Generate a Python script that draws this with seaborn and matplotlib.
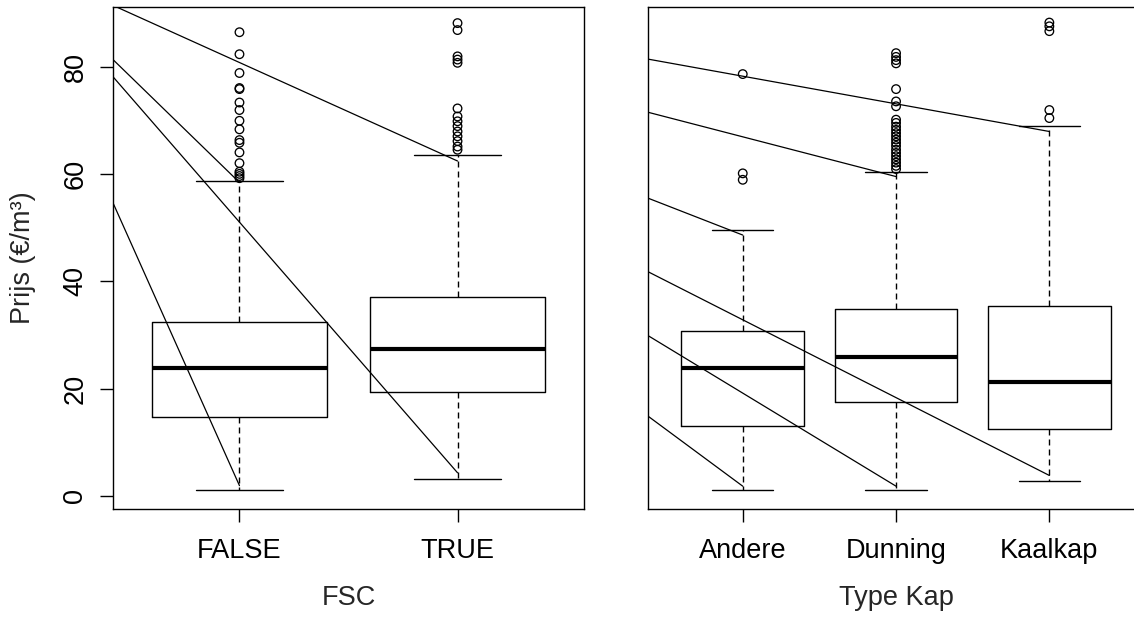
import matplotlib
matplotlib.use("Agg")
import matplotlib.pyplot as plt
import seaborn as sns
import numpy as np
import pandas as pd

# ---------------- data ----------------
fsc_categories = ["FALSE", "TRUE"]
fsc_whislo = [1.0, 3.2]
fsc_q1 = [14.7, 19.3]
fsc_median = [23.9, 27.4]
fsc_q3 = [32.4, 37.1]
fsc_whishi = [58.6, 63.5]
fsc_out_false = [86.4, 82.3, 78.8, 76.0, 75.8, 73.3, 71.9, 69.9, 68.3, 66.3,
                 65.8, 64.0, 62.0, 60.4, 60.0, 59.6, 59.2]
fsc_out_true = [88.1, 86.8, 81.9, 81.3, 80.7, 72.2, 70.7, 69.8, 68.9, 67.9,
                67.0, 66.1, 65.1, 64.5]

kap_categories = ["Andere", "Dunning", "Kaalkap"]
kap_whislo = [1.0, 1.0, 2.7]
kap_q1 = [13.0, 17.5, 12.5]
kap_median = [23.9, 25.8, 21.2]
kap_q3 = [30.8, 34.8, 35.4]
kap_whishi = [49.6, 60.4, 69.0]
kap_out_andere = [78.6, 60.1, 58.9]
kap_out_dunning = [82.5, 81.8, 81.2, 80.6, 75.8, 73.5, 72.6, 70.1, 69.5, 68.8,
                   68.2, 67.6, 67.0, 66.4, 65.8, 65.2, 64.5, 63.9, 63.3, 62.7,
                   62.1, 61.5, 60.9]
kap_out_kaalkap = [88.2, 87.5, 86.6, 71.9, 70.4]

# straight lines: start value at left edge of panel -> end (category, value)
fsc_line_start = [91.4, 81.3, 78.1, 54.6]
fsc_line_end_cat = ["TRUE", "FALSE", "TRUE", "FALSE"]
fsc_line_end = [62.4, 58.4, 4.3, 1.9]

kap_line_start = [81.4, 71.5, 55.5, 41.8, 29.9, 14.9]
kap_line_end_cat = ["Kaalkap", "Dunning", "Andere", "Kaalkap", "Dunning", "Andere"]
kap_line_end = [67.9, 59.5, 48.6, 3.8, 1.8, 1.8]

y_ticks = [0, 20, 40, 60, 80]
y_label = "Prijs (€/m³)"
x_label_left = "FSC"
x_label_right = "Type Kap"

# ---------------- style ----------------
sns.set_theme(style="white")
plt.rcParams["font.family"] = ["Liberation Sans", "DejaVu Sans"]
FS = 19.5

fig = plt.figure(figsize=(11.34, 6.19), dpi=100)
ax1 = fig.add_axes([113 / 1134, 110 / 619, 471 / 1134, 502 / 619])
ax2 = fig.add_axes([647.7 / 1134, 110 / 619, 496.7 / 1134, 502 / 619])

ylim = (-2.45, 91.1)


def draw_panel(ax, cats, whislo, q1, med, q3, whishi, outliers,
               l_start, l_end_cat, l_end, xlabel, show_y):
    n = len(cats)
    pos = np.arange(1, n + 1)
    stats = []
    for i in range(n):
        stats.append(dict(med=med[i], q1=q1[i], q3=q3[i],
                          whislo=whislo[i], whishi=whishi[i], fliers=[]))
    ax.bxp(stats, positions=pos, widths=0.8, capwidths=0.4, showfliers=False,
           boxprops=dict(color="black", lw=1.0),
           medianprops=dict(color="black", lw=3.0, solid_capstyle="butt"),
           whiskerprops=dict(color="black", lw=1.0, linestyle=(0, (4.3, 2.9))),
           capprops=dict(color="black", lw=1.0))
    # outliers
    ox, oy = [], []
    for i, vals in enumerate(outliers):
        ox += [pos[i]] * len(vals)
        oy += list(vals)
    df = pd.DataFrame({"x": ox, "y": oy})
    sns.scatterplot(data=df, x="x", y="y", ax=ax, marker="o", s=38,
                    color="none", edgecolor="black", linewidth=0.95,
                    legend=False, zorder=3)
    xlim = (0.5 - 0.04 * n, n + 0.5 + 0.04 * n)
    ax.set_xlim(*xlim)
    ax.set_ylim(*ylim)
    # lines from left edge
    for s, c, e in zip(l_start, l_end_cat, l_end):
        xe = pos[cats.index(c)]
        ax.plot([xlim[0], xe], [s, e], color="black", lw=0.9, zorder=4)
    ax.set_xticks(pos)
    ax.set_xticklabels(cats, fontsize=FS)
    ax.tick_params(axis="x", direction="out", length=9.7, width=1.0,
                   pad=11, colors="black", bottom=True)
    if show_y:
        ax.set_yticks(y_ticks)
        ax.set_yticklabels([str(t) for t in y_ticks], fontsize=FS,
                           rotation=90, va="center")
        ax.tick_params(axis="y", direction="out", length=9.7, width=1.0,
                       pad=8, colors="black", left=True)
        ax.set_ylabel(y_label, fontsize=FS)
        ax.yaxis.set_label_coords(-0.191, 0.5)
        ax.yaxis.label.set_va("center")
        ax.yaxis.label.set_ha("center")
    else:
        ax.set_yticks([])
        ax.set_ylabel("")
    ax.set_xlabel(xlabel, fontsize=FS)
    ax.xaxis.set_label_coords(0.5, -0.1767)
    ax.xaxis.label.set_va("center")
    for sp in ax.spines.values():
        sp.set_visible(True)
        sp.set_color("black")
        sp.set_linewidth(1.0)
    ax.set_facecolor("white")


draw_panel(ax1, fsc_categories, fsc_whislo, fsc_q1, fsc_median, fsc_q3,
           fsc_whishi, [fsc_out_false, fsc_out_true],
           fsc_line_start, fsc_line_end_cat, fsc_line_end, x_label_left, True)
draw_panel(ax2, kap_categories, kap_whislo, kap_q1, kap_median, kap_q3,
           kap_whishi, [kap_out_andere, kap_out_dunning, kap_out_kaalkap],
           kap_line_start, kap_line_end_cat, kap_line_end, x_label_right, False)

fig.savefig("out.png", dpi=100, facecolor="white")
